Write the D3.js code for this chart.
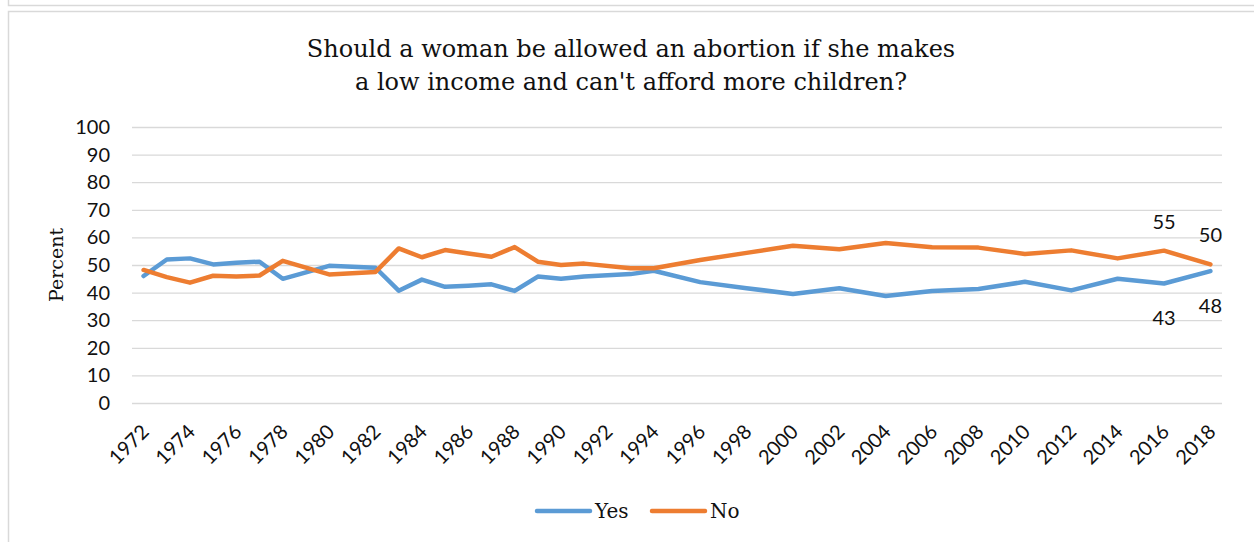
<!DOCTYPE html>
<html>
<head>
<meta charset="utf-8">
<script src="https://cdn.jsdelivr.net/npm/d3@7"></script>
<style>
  body { margin: 0; background: #fff; }
</style>
</head>
<body>
<div id="chart"></div>
<script>
var width = 1254;
var height = 542;

// survey years and percentages
var years = [1972, 1973, 1974, 1975, 1976, 1977, 1978, 1980, 1982, 1983, 1984, 1985, 1986, 1987, 1988, 1989,
  1990, 1991, 1993, 1994, 1996, 1998, 2000, 2002, 2004, 2006, 2008, 2010, 2012, 2014, 2016, 2018];
var yesValues = [46, 52, 52.4, 50.2, 50.8, 51.2, 45, 49.7, 49, 40.7, 44.7, 42.1, 42.5, 43, 40.6, 45.8,
  45, 45.8, 46.7, 47.9, 43.8, 41.6, 39.5, 41.6, 38.8, 40.6, 41.3, 43.9, 40.8, 45, 43.3, 47.8];
var noValues = [48.2, 45.6, 43.6, 46.1, 45.8, 46.2, 51.5, 46.6, 47.5, 56, 52.8, 55.4, 54.2, 53, 56.5, 51.2,
  50, 50.5, 48.8, 48.8, 51.8, 54.4, 57, 55.7, 58, 56.4, 56.3, 54, 55.3, 52.4, 55.2, 50.2];
var yTicks = [0, 10, 20, 30, 40, 50, 60, 70, 80, 90, 100];
var xTicks = d3.range(1972, 2019, 2);
var labelYears = [2016, 2018];

var series = [
  { name: "Yes", values: yesValues, color: "#5b9bd5", labelPos: "below" },
  { name: "No", values: noValues, color: "#ed7d31", labelPos: "above" },
];

// plot area edges (window.top is reserved, so no plain "top")
var plotLeft = 132, plotRight = 1222, plotTop = 127, plotBottom = 403;

var svg = d3
  .select("#chart")
  .append("svg")
  .attr("width", width)
  .attr("height", height)
  .style("display", "block");

// chart frame
svg.append("path")
  .attr("d", "M8.5,0 V5.5 H1254 M8.5,542 V11.5 H1254")
  .attr("fill", "none")
  .attr("stroke", "#d9d9d9")
  .attr("stroke-width", 1.5);

var x = d3.scaleLinear().domain([1971.5, 2018.5]).range([plotLeft, plotRight]);
var y = d3.scaleLinear().domain([0, 100]).range([plotBottom, plotTop]);

// y axis with gridlines
var yAxis = svg.append("g")
  .attr("transform", "translate(" + plotLeft + ",0)")
  .call(d3.axisLeft(y).tickValues(yTicks).tickSize(-(plotRight - plotLeft)).tickPadding(22));
yAxis.select(".domain").remove();
yAxis.selectAll("line").attr("stroke", "#d9d9d9").attr("stroke-width", 1.3);
yAxis.selectAll("text")
  .attr("font-family", "Lato")
  .attr("font-size", 20)
  .attr("fill", "#111");

// x axis labels
var xAxis = svg.append("g")
  .attr("transform", "translate(0," + plotBottom + ")")
  .call(d3.axisBottom(x).tickValues(xTicks).tickSize(0).tickFormat(d3.format("d")));
xAxis.select(".domain").remove();
xAxis.selectAll("text")
  .attr("x", 0)
  .attr("y", 0)
  .attr("dy", 0)
  .attr("text-anchor", "end")
  .attr("transform", "translate(6,30) rotate(-45)")
  .attr("font-family", "Lato")
  .attr("font-size", 20)
  .attr("fill", "#111");

// lines
var line = d3.line()
  .x(function (d, i) { return x(years[i]); })
  .y(function (d) { return y(d); });

svg.selectAll(".series")
  .data(series)
  .join("path")
  .attr("class", "series")
  .attr("d", function (d) { return line(d.values); })
  .attr("fill", "none")
  .attr("stroke", function (d) { return d.color; })
  .attr("stroke-width", 4.5)
  .attr("stroke-linejoin", "round")
  .attr("stroke-linecap", "round");

// data labels on the last two points
series.forEach(function (s) {
  labelYears.forEach(function (yr) {
    var v = s.values[years.indexOf(yr)];
    svg.append("text")
      .attr("x", x(yr))
      .attr("y", y(v) + (s.labelPos == "above" ? -22 : 42))
      .attr("text-anchor", "middle")
      .attr("font-family", "Lato")
      .attr("font-size", 20)
      .attr("fill", "#111")
      .text(d3.format(".0f")(v));
  });
});

// title
var title = svg.append("text")
  .attr("text-anchor", "middle")
  .attr("font-family", "DejaVu Serif")
  .attr("font-size", 24)
  .attr("fill", "#111");
title.append("tspan").attr("x", 631).attr("y", 57).text("Should a woman be allowed an abortion if she makes");
title.append("tspan").attr("x", 631).attr("y", 90).text("a low income and can't afford more children?");

// y axis title
svg.append("text")
  .attr("transform", "translate(63," + (plotTop + plotBottom) / 2 + ") rotate(-90)")
  .attr("text-anchor", "middle")
  .attr("font-family", "DejaVu Serif")
  .attr("font-size", 19)
  .attr("fill", "#111")
  .text("Percent");

// legend
var legend = svg.selectAll(".legend")
  .data(series)
  .join("g")
  .attr("class", "legend")
  .attr("transform", function (d, i) { return "translate(" + (537 + i * 115) + ",511)"; });
legend.append("line")
  .attr("x1", 0)
  .attr("x2", 53)
  .attr("stroke", function (d) { return d.color; })
  .attr("stroke-width", 4.5)
  .attr("stroke-linecap", "round");
legend.append("text")
  .attr("x", 58)
  .attr("y", 7)
  .attr("font-family", "DejaVu Serif")
  .attr("font-size", 20)
  .attr("fill", "#111")
  .text(function (d) { return d.name; });
</script>
</body>
</html>
